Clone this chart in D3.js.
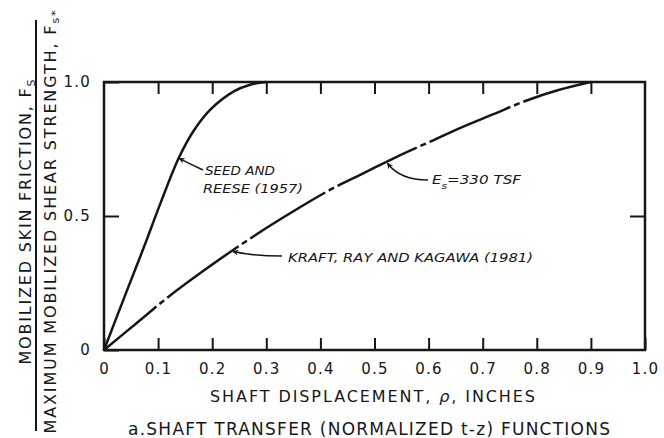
<!DOCTYPE html>
<html>
<head>
<meta charset="utf-8">
<script src="https://cdn.jsdelivr.net/npm/d3@7"></script>
<style>
  body { margin: 0; background: #fff; }
  svg { display: block; }
</style>
</head>
<body>
<script>
'use strict';

// tick values and their printed labels
const xTicks = [0, 0.1, 0.2, 0.3, 0.4, 0.5, 0.6, 0.7, 0.8, 0.9, 1.0];
const xTickLabels = ["0", "0.1", "0.2", "0.3", "0.4", "0.5", "0.6", "0.7", "0.8", "0.9", "1.0"];
const yTicks = [0, 0.5, 1.0];
const yTickLabels = ["0", "0.5", "1.0"];

// Seed and Reese (1957)
const seedX = [0, 0.02, 0.044, 0.074, 0.105, 0.139, 0.167, 0.197, 0.24, 0.27, 0.3];
const seedY = [0, 0.105, 0.23, 0.385, 0.551, 0.72, 0.822, 0.898, 0.965, 0.99, 1.0];

// Kraft, Ray and Kagawa (1981), Es = 330 TSF
const kraftX = [0, 0.06, 0.12, 0.18, 0.24, 0.3, 0.36, 0.42, 0.48, 0.54, 0.6, 0.66, 0.72, 0.78, 0.84, 0.9];
const kraftY = [0, 0.10, 0.20, 0.29, 0.375, 0.455, 0.53, 0.6, 0.66, 0.72, 0.775, 0.83, 0.88, 0.93, 0.97, 1.0];

const width = 664, height = 438;
const ink = '#161616';
const font = '"DejaVu Sans", sans-serif';

const svg = d3.select('body').append('svg')
  .attr('width', width)
  .attr('height', height);

const x = d3.scaleLinear().domain([0, 1]).range([104, 645]);
const y = d3.scaleLinear().domain([0, 1]).range([350, 82]);

// arrow head
svg.append('defs').append('marker')
  .attr('id', 'head')
  .attr('viewBox', '0 0 10 10')
  .attr('refX', 9).attr('refY', 5)
  .attr('markerWidth', 9).attr('markerHeight', 6)
  .attr('markerUnits', 'userSpaceOnUse')
  .attr('orient', 'auto')
  .append('path')
  .attr('d', 'M0,0 L10,5 L0,10 L3,5 Z')
  .attr('fill', ink);

// frame
svg.append('rect')
  .attr('x', x(0)).attr('y', y(1))
  .attr('width', x(1) - x(0)).attr('height', y(0) - y(1))
  .attr('fill', 'none').attr('stroke', ink).attr('stroke-width', 2.5);

function styleAxis(g, keepText) {
  g.select('.domain').remove();
  g.selectAll('line').attr('stroke', ink).attr('stroke-width', 2);
  if (keepText) {
    g.selectAll('text').attr('font-family', font).attr('font-size', 15)
      .attr('letter-spacing', 1.2).attr('fill', ink);
  } else {
    g.selectAll('text').remove();
  }
}

// bottom axis with labels
svg.append('g')
  .attr('transform', `translate(0,${y(0)})`)
  .call(d3.axisBottom(x).tickValues(xTicks).tickFormat((d, i) => xTickLabels[i])
    .tickSize(-12).tickPadding(13))
  .call(g => styleAxis(g, true));

// top axis, ticks only
svg.append('g')
  .attr('transform', `translate(0,${y(1)})`)
  .call(d3.axisTop(x).tickValues(xTicks.slice(1, -1)).tickSize(-12))
  .call(g => styleAxis(g, false));

// left axis with labels
svg.append('g')
  .attr('transform', `translate(${x(0)},0)`)
  .call(d3.axisLeft(y).tickValues(yTicks).tickFormat((d, i) => yTickLabels[i])
    .tickSize(-15).tickPadding(13))
  .call(g => styleAxis(g, true));

// right axis, tick only
svg.append('g')
  .attr('transform', `translate(${x(1)},0)`)
  .call(d3.axisRight(y).tickValues([0.5]).tickSize(-15))
  .call(g => styleAxis(g, false));

// curves
const line = d3.line()
  .x(d => x(d[0]))
  .y(d => y(d[1]))
  .curve(d3.curveCatmullRom.alpha(0.5));

svg.append('path')
  .datum(d3.zip(seedX, seedY))
  .attr('d', line)
  .attr('fill', 'none').attr('stroke', ink).attr('stroke-width', 2.5);

svg.append('path')
  .datum(d3.zip(kraftX, kraftY))
  .attr('d', line)
  .attr('fill', 'none').attr('stroke', ink).attr('stroke-width', 2.5)
  .attr('stroke-dasharray', '88,4,6,4')
  .attr('stroke-dashoffset', 20);

// annotations: arrow tips sit on the curves
function arrow(tip, tail, ctrl) {
  const tx = x(tip[0]), ty = y(tip[1]);
  svg.append('path')
    .attr('d', `M${tail[0]},${tail[1]} Q${ctrl[0]},${ctrl[1]} ${tx},${ty}`)
    .attr('fill', 'none').attr('stroke', ink).attr('stroke-width', 1.6)
    .attr('marker-end', 'url(#head)');
}

function note(px, py, str, len) {
  return svg.append('text')
    .attr('x', px).attr('y', py)
    .attr('font-family', font).attr('font-style', 'italic')
    .attr('font-size', 13).attr('fill', ink)
    .attr('textLength', len).attr('lengthAdjust', 'spacingAndGlyphs')
    .text(str);
}

arrow([0.139, 0.715], [203, 170], [192, 165]);
note(205, 175, 'SEED AND', 70);
note(203, 193, 'REESE (1957)', 100);

arrow([0.524, 0.697], [428, 180], [400, 180]);
const es = svg.append('text')
  .attr('x', 432).attr('y', 184)
  .attr('font-family', font).attr('font-style', 'italic')
  .attr('font-size', 13).attr('fill', ink)
  .attr('textLength', 89).attr('lengthAdjust', 'spacingAndGlyphs');
es.append('tspan').text('E');
es.append('tspan').attr('dy', 5).attr('font-size', 9).text('s');
es.append('tspan').attr('dy', -5).text('=330 TSF');

arrow([0.238, 0.368], [282, 256], [252, 256]);
note(288, 262, 'KRAFT, RAY AND KAGAWA (1981)', 245);

// x axis title and caption
const xt = svg.append('text')
  .attr('x', 210).attr('y', 402)
  .attr('font-family', font).attr('font-size', 16).attr('fill', ink)
  .attr('textLength', 325).attr('lengthAdjust', 'spacing');
xt.append('tspan').text('SHAFT DISPLACEMENT, ');
xt.append('tspan').attr('font-style', 'italic').text('ρ');
xt.append('tspan').text(', INCHES');

svg.append('text')
  .attr('x', 128).attr('y', 435)
  .attr('font-family', font).attr('font-size', 17).attr('fill', ink)
  .attr('textLength', 482).attr('lengthAdjust', 'spacing')
  .text('a.SHAFT TRANSFER (NORMALIZED t-z) FUNCTIONS');

// y axis title, a fraction written sideways
const y1 = svg.append('text')
  .attr('transform', 'translate(31,222) rotate(-90)')
  .attr('text-anchor', 'middle')
  .attr('font-family', font).attr('font-size', 16).attr('fill', ink)
  .attr('textLength', 285).attr('lengthAdjust', 'spacing');
y1.append('tspan').text('MOBILIZED SKIN FRICTION, F');
y1.append('tspan').attr('dy', 4).attr('font-size', 11).text('S');

svg.append('line')
  .attr('x1', 36).attr('x2', 36)
  .attr('y1', 20).attr('y2', 431)
  .attr('stroke', ink).attr('stroke-width', 2);

const y2 = svg.append('text')
  .attr('transform', 'translate(56,222) rotate(-90)')
  .attr('text-anchor', 'middle')
  .attr('font-family', font).attr('font-size', 16).attr('fill', ink)
  .attr('textLength', 423).attr('lengthAdjust', 'spacing');
y2.append('tspan').text('MAXIMUM MOBILIZED SHEAR STRENGTH, F');
y2.append('tspan').attr('dy', 3).attr('font-size', 11).text('s*');
</script>
</body>
</html>
